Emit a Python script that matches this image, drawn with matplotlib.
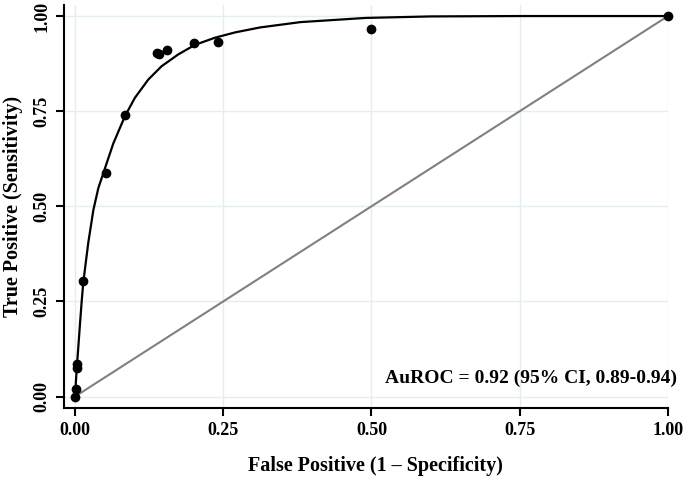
import matplotlib
matplotlib.use("Agg")
import matplotlib.pyplot as plt

matplotlib.rcParams.update({
    "font.family": "Liberation Serif",
    "font.weight": "bold",
})

# observed operating points
fpr_pts = [0.0, 0.001, 0.004, 0.004, 0.014, 0.0517, 0.0843, 0.138, 0.142,
           0.156, 0.2007, 0.2418, 0.4986, 1.0]
tpr_pts = [0.0, 0.019, 0.075, 0.086, 0.305, 0.587, 0.740, 0.902, 0.900,
           0.912, 0.928, 0.932, 0.967, 1.0]

# fitted ROC curve
fpr_fit = [0.0, 0.002, 0.004, 0.0084, 0.0113, 0.014, 0.0225, 0.031, 0.0394,
           0.0506, 0.0646, 0.0843, 0.101, 0.1236, 0.146, 0.174, 0.202,
           0.236, 0.270, 0.312, 0.38, 0.49, 0.60, 0.75, 1.0]
tpr_fit = [0.0, 0.050, 0.095, 0.190, 0.250, 0.300, 0.405, 0.490, 0.548,
           0.600, 0.665, 0.737, 0.785, 0.833, 0.868, 0.899, 0.924,
           0.943, 0.957, 0.970, 0.984, 0.995, 0.999, 1.0, 1.0]

ticks = [0.0, 0.25, 0.5, 0.75, 1.0]
tick_labels = ["0.00", "0.25", "0.50", "0.75", "1.00"]
auc_text = "AuROC = 0.92 (95% CI, 0.89-0.94)"

fig = plt.figure(figsize=(6.85, 4.78), dpi=100)
ax = fig.add_axes([64 / 685, 1 - 408 / 478, 604 / 685, 403 / 478])

for t in ticks:
    ax.axhline(t, color="#e4eef0", lw=1.0, zorder=0)
    ax.axvline(t, color="#e4eef0", lw=1.0, zorder=0)

ax.plot([0, 1], [0, 1], color="#808080", lw=1.5, zorder=2)
ax.plot(fpr_fit, tpr_fit, color="black", lw=1.6, zorder=3,
        solid_joinstyle="round")
ax.plot(fpr_pts, tpr_pts, "o", color="black", ms=6, zorder=4,
        clip_on=False)

ax.set_xlim(-0.0185, 1.0)
ax.set_ylim(-0.030, 1.029)
ax.set_xticks(ticks)
ax.set_xticklabels(tick_labels, fontsize=13, fontweight="bold")
ax.set_yticks(ticks)
ax.set_yticklabels(tick_labels, fontsize=13, fontweight="bold",
                   rotation=90, va="center")
ax.tick_params(direction="out", length=6, width=1.5, pad=4)

for s in ["top", "right"]:
    ax.spines[s].set_visible(False)
for s in ["left", "bottom"]:
    ax.spines[s].set_linewidth(1.5)

ax.set_xlabel("False Positive (1 \u2013 Specificity)", fontsize=14.5,
              fontweight="bold")
ax.xaxis.set_label_coords(0.515, -0.118)
ax.set_ylabel("True Positive (Sensitivity)", fontsize=14.5,
              fontweight="bold", labelpad=7)

ax.text(1.015, 0.049, auc_text, fontsize=14, fontweight="bold",
        ha="right", va="center")

fig.savefig("out.png", dpi=100, facecolor="white")
